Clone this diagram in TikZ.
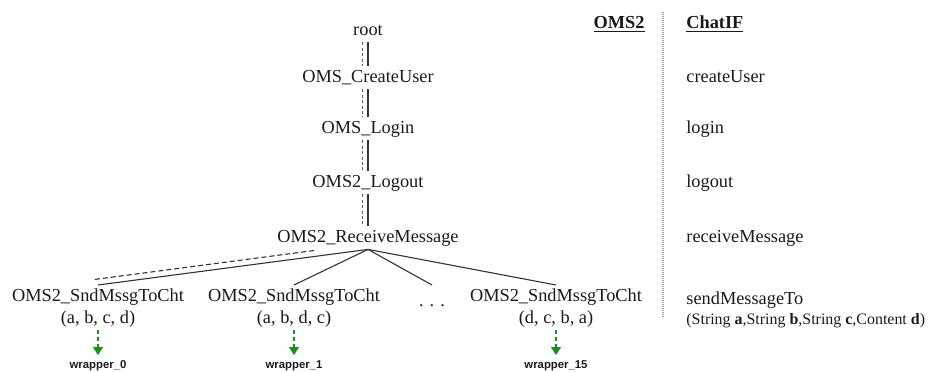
\documentclass[tikz,border=0pt]{standalone}
\usepackage{fontspec}
\setmainfont{Liberation Serif}
\newfontfamily\wrapfont{Liberation Sans}
\usepackage{xcolor}
\usetikzlibrary{positioning,calc,arrows.meta}

\definecolor{txtgray}{HTML}{1A1A1A}
\definecolor{linegray}{HTML}{333333}
\definecolor{wrapgreen}{HTML}{1E8C1E}
\definecolor{sepgray}{HTML}{A0A0A0}

\begin{document}
\begin{tikzpicture}[x=0.5bp, y=-0.5bp,
    op/.style={font=\fontsize{9.2}{11}\selectfont, text=txtgray, inner sep=1.5bp,
        text height=6.5bp, text depth=2bp},
    call/.style={font=\fontsize{9.2}{11}\selectfont, text=txtgray, inner sep=1.5bp},
    head/.style={font=\fontsize{9.2}{11}\selectfont\bfseries, text=txtgray, inner sep=0pt},
    wrap/.style={font=\fontsize{5.7}{7}\selectfont\wrapfont\bfseries, text=txtgray, inner sep=1.5bp},
    link/.style={draw=linegray, line width=0.55bp},
    twin/.style={draw=linegray!80, line width=0.5bp, dash pattern=on 1.5bp off 1.2bp},
    alt/.style={draw=linegray, line width=0.55bp, dash pattern=on 2.5bp off 1.5bp},
    tolib/.style={draw=wrapgreen, line width=0.6bp, dash pattern=on 2bp off 1.5bp,
        -{Triangle[length=4bp, width=5bp]}, shorten >=1bp}]

    \useasboundingbox (0,0) rectangle (929,371);

    % Chain of OMS2 calls
    \node[op, anchor=base] (root) at (368, 35) {root};
    \node[op, anchor=base] (cu) at (368, 82) {OMS\_CreateUser};
    \node[op, anchor=base] (li) at (368, 133) {OMS\_Login};
    \node[op, anchor=base] (lo) at (368, 187) {OMS2\_Logout};
    \node[op, anchor=base] (rm) at (368, 242) {OMS2\_ReceiveMessage};

    \draw[twin] ([xshift=-3bp]root.south) -- ([xshift=-3bp]cu.north);
    \draw[link] (root.south) -- (cu.north);
    \draw[twin] ([xshift=-3bp]cu.south) -- ([xshift=-3bp]li.north);
    \draw[link] (cu.south) -- (li.north);
    \draw[twin] ([xshift=-3bp]li.south) -- ([xshift=-3bp]lo.north);
    \draw[link] (li.south) -- (lo.north);
    \draw[twin] ([xshift=-3bp]lo.south) -- ([xshift=-3bp]rm.north);
    \draw[link] (lo.south) -- (rm.north);

    % The permutations of sendMessageTo
    \node[call, anchor=north, align=center] (s1) at (98, 285) {OMS2\_SndMssgToCht\\(a, b, c, d)};
    \node[call, anchor=north, align=center] (s2) at (294, 285) {OMS2\_SndMssgToCht\\(a, b, d, c)};
    \node[op, anchor=north, text height=9bp] (dots) at (432, 285) {.\hspace{3bp}.\hspace{3bp}.};
    \node[call, anchor=north, align=center] (s3) at (556, 285) {OMS2\_SndMssgToCht\\(d, c, b, a)};

    \draw[link] (rm.south) -- (s1.north);
    \draw[alt, transform canvas={yshift=3bp}] ($(rm.south)!0.2!(s1.north)$) -- ($(rm.south)!1.02!(s1.north)$);
    \draw[link] (rm.south) -- (s2.north);
    \draw[link] (rm.south) -- (dots.north);
    \draw[link] (rm.south) -- (s3.north);

    % Wrappers
    \node[wrap, anchor=north] (w0) at (98, 357) {wrapper\_0};
    \node[wrap, anchor=north] (w1) at (294, 357) {wrapper\_1};
    \node[wrap, anchor=north] (w15) at (556, 357) {wrapper\_15};

    \draw[tolib] (s1.south) -- (w0.north);
    \draw[tolib] (s2.south) -- (w1.north);
    \draw[tolib] (s3.south) -- (w15.north);

    % Column heads and separator
    \node[head, anchor=base east] (homs) at (645, 28) {\underline{OMS2}};
    \node[head, anchor=base west] (hchat) at (686, 28) {\underline{ChatIF}};
    \draw[sepgray, line width=0.8bp, dash pattern=on 0.5bp off 0.5bp] (663, 12) -- (663, 318);

    % ChatIF methods
    \node[op, anchor=base west, inner xsep=0pt] (mcu) at (686, 82) {createUser};
    \node[op, anchor=base west, inner xsep=0pt] (mli) at (686, 133) {login};
    \node[op, anchor=base west, inner xsep=0pt] (mlo) at (686, 187) {logout};
    \node[op, anchor=base west, inner xsep=0pt] (mrm) at (686, 242) {receiveMessage};
    \node[op, anchor=base west, inner xsep=0pt] (msm) at (686, 304) {sendMessageTo};
    \node[op, anchor=base west, inner xsep=0pt, font=\fontsize{8}{10}\selectfont] (mpar) at (686, 324)
        {(String \textbf{a},String \textbf{b},String \textbf{c},Content \textbf{d})};

\end{tikzpicture}
\end{document}
